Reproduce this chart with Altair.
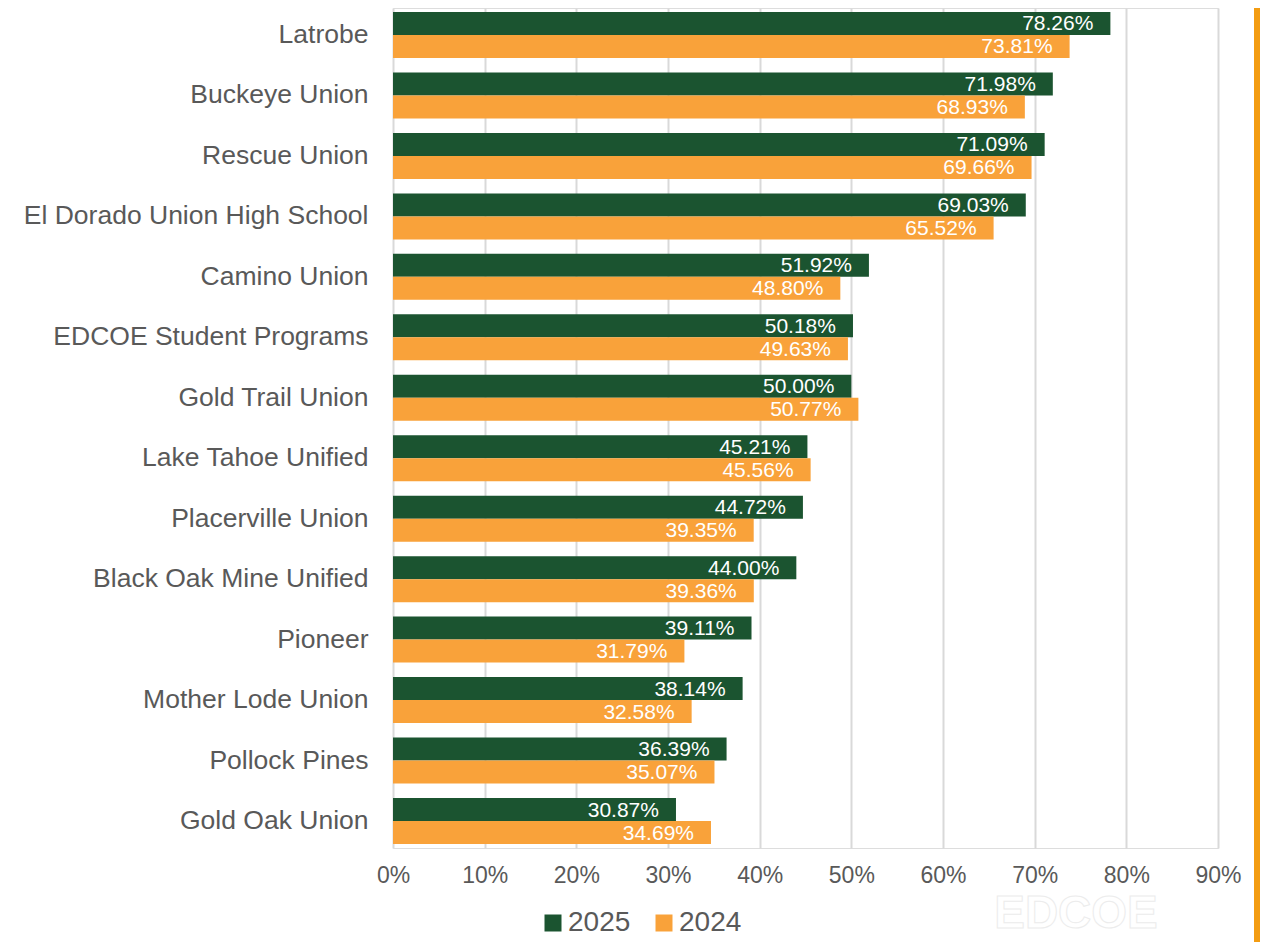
import altair as alt
import pandas as pd

districts = [
    "Latrobe", "Buckeye Union", "Rescue Union", "El Dorado Union High School",
    "Camino Union", "EDCOE Student Programs", "Gold Trail Union",
    "Lake Tahoe Unified", "Placerville Union", "Black Oak Mine Unified",
    "Pioneer", "Mother Lode Union", "Pollock Pines", "Gold Oak Union",
]
values_2025 = [78.26, 71.98, 71.09, 69.03, 51.92, 50.18, 50.00, 45.21, 44.72, 44.00, 39.11, 38.14, 36.39, 30.87]
values_2024 = [73.81, 68.93, 69.66, 65.52, 48.80, 49.63, 50.77, 45.56, 39.35, 39.36, 31.79, 32.58, 35.07, 34.69]
series = ["2025", "2024"]
colors = ["#1b5430", "#f9a23a"]
x_ticks = [0, 10, 20, 30, 40, 50, 60, 70, 80, 90]

rows = []
for d, a, b in zip(districts, values_2025, values_2024):
    rows.append({"district": d, "year": "2025", "value": a})
    rows.append({"district": d, "year": "2024", "value": b})
df = pd.DataFrame(rows)

FONT = "Liberation Sans"
GREY = "#595959"

y_enc = alt.Y("district:N", sort=districts,
              scale=alt.Scale(paddingInner=0.2392, paddingOuter=0.0661),
              axis=alt.Axis(title=None, ticks=False, domain=False, labelFontSize=26.5,
                            labelColor=GREY, labelFont=FONT, labelPadding=25,
                            labelLimit=400))
yoff = alt.YOffset("year:N", sort=series, scale=alt.Scale(domain=series, paddingInner=0, paddingOuter=0))
x_enc = alt.X("value:Q", scale=alt.Scale(domain=[0, 90], nice=False),
              axis=alt.Axis(title=None, values=x_ticks, labelExpr="datum.value + '%'",
                            ticks=False, domain=False, labelFontSize=23, labelColor=GREY,
                            labelFont=FONT, labelPadding=16, labelFlush=False,
                            gridColor="#d9d9d9", gridWidth=2))

bars = alt.Chart(df).mark_bar().encode(
    y=y_enc, yOffset=yoff, x=x_enc,
    color=alt.Color("year:N", sort=series,
                    scale=alt.Scale(domain=series, range=colors),
                    legend=alt.Legend(title=None, orient="none", legendX=146, legendY=901,
                                      direction="horizontal", symbolType="square",
                                      symbolSize=289, symbolStrokeWidth=0,
                                      labelFontSize=28, labelColor=GREY, labelFont=FONT,
                                      labelOffset=1, columnPadding=19)),
)

labels = alt.Chart(df).transform_calculate(
    label="format(datum.value, '.2f') + '%'"
).mark_text(align="right", baseline="middle", dx=-17, dy=1, color="white",
            fontSize=21, font=FONT).encode(
    y=alt.Y("district:N", sort=districts), yOffset=yoff,
    x="value:Q", text="label:N",
)

edge_line = alt.Chart(pd.DataFrame({"v": [1]})).mark_rule(color="#f39c12", strokeWidth=6).encode(
    x=alt.value(864), y=alt.value(-10), y2=alt.value(960)
)

watermark = alt.Chart(pd.DataFrame({"t": ["EDCOE"]})).mark_text(
    font=FONT, fontSize=46, fontWeight="bold", fill="white", stroke="#ececec",
    strokeWidth=1, align="center", baseline="alphabetic"
).encode(x=alt.value(683), y=alt.value(920), text="t:N")

chart = alt.layer(bars, labels, edge_line, watermark).properties(
    width=825, height=840,
    autosize=alt.AutoSizeParams(type="none"),
    padding={"left": 385, "top": 0, "right": 42, "bottom": 94},
).configure_view(stroke=None).configure(font=FONT)

chart.save("out.html", embed_options={"renderer": "svg", "actions": False})
